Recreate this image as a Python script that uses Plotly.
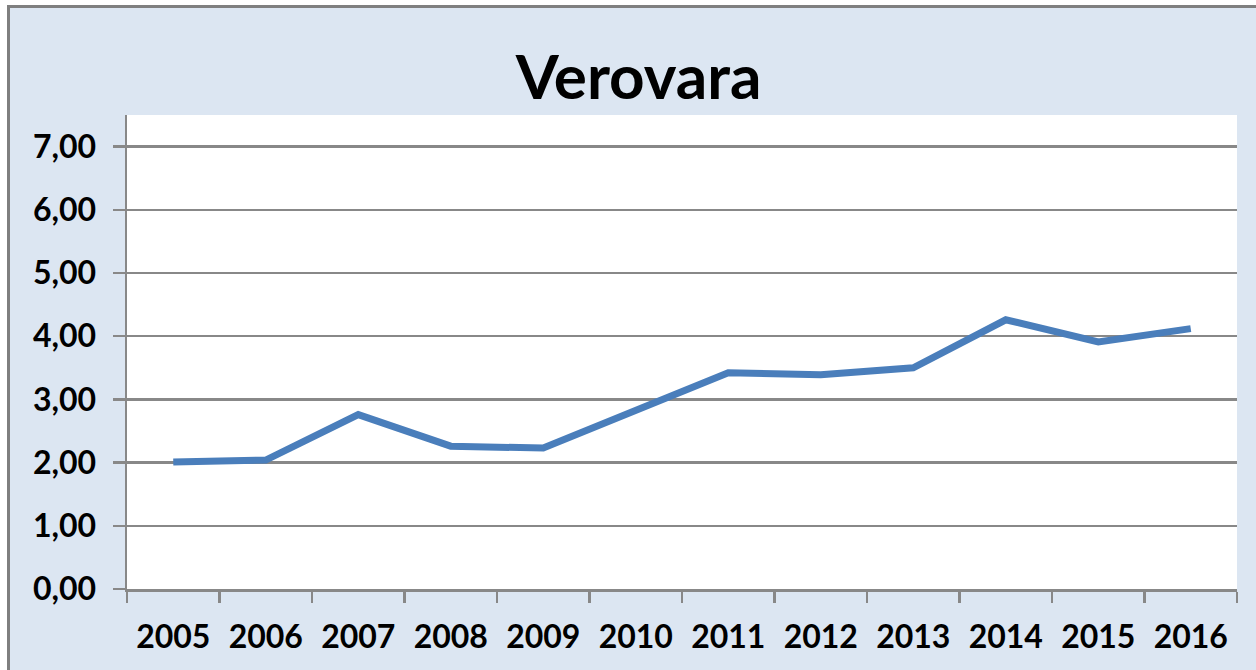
import plotly.graph_objects as go

years = ["2005", "2006", "2007", "2008", "2009", "2010", "2011", "2012", "2013", "2014", "2015", "2016"]
values = [2.01, 2.04, 2.76, 2.26, 2.23, 2.83, 3.42, 3.39, 3.50, 4.26, 3.91, 4.12]
y_ticks = [0, 1, 2, 3, 4, 5, 6, 7]
y_tick_labels = ["0,00", "1,00", "2,00", "3,00", "4,00", "5,00", "6,00", "7,00"]
title_text = "Verovara"

W, H = 1256, 670
L, R, T, B = 127, 19, 115, 81
pw, ph = W - L - R, H - T - B

def px_x(px):
    return (px - L) / pw

def px_y(py):
    return (H - B - py) / ph

fig = go.Figure()
fig.add_trace(go.Scatter(
    x=years, y=values, mode="lines",
    line=dict(color="#4A7EBB", width=7),
    hoverinfo="skip", showlegend=False,
))

grid = "#888888"
font_family = "Lato, 'Open Sans', sans-serif"

fig.update_layout(
    width=W, height=H,
    margin=dict(l=L, r=R, t=T, b=B, pad=0),
    paper_bgcolor="#DCE6F2",
    plot_bgcolor="#FFFFFF",
    title=dict(text=title_text, x=638.5 / W, xanchor="center", y=1 - 77 / H, yanchor="middle",
               font=dict(family=font_family, size=62, color="#000000", weight="bold")),
    xaxis=dict(
        type="category", range=[-0.5, 11.5], tickson="boundaries", ticks="outside",
        ticklen=11, tickwidth=2.5,
        tickcolor=grid, showline=True, linecolor=grid, linewidth=2.5, showgrid=False,
        tickfont=dict(family=font_family, size=32, color="#000000", weight="bold"),
        ticklabelstandoff=18, fixedrange=True,
    ),
    yaxis=dict(
        range=[0, 7.5], tickvals=y_ticks, ticktext=y_tick_labels,
        ticks="outside", ticklen=12, tickwidth=2.5, tickcolor=grid,
        showline=True, linecolor=grid, linewidth=2.5,
        showgrid=True, gridcolor=grid, gridwidth=2.5, zeroline=False,
        tickfont=dict(family=font_family, size=32, color="#000000", weight="bold"),
        ticklabelstandoff=10, fixedrange=True,
    ),
)

# white page area outside the chart border (left and top)
fig.add_shape(type="rect", xref="paper", yref="paper",
              x0=px_x(-5), x1=px_x(7), y0=px_y(H + 5), y1=px_y(-5),
              line=dict(width=0), fillcolor="#FFFFFF", layer="below")
fig.add_shape(type="rect", xref="paper", yref="paper",
              x0=px_x(-5), x1=px_x(W + 5), y0=px_y(5), y1=px_y(-5),
              line=dict(width=0), fillcolor="#FFFFFF", layer="below")
# chart border (left and top edges visible)
fig.add_shape(type="line", xref="paper", yref="paper",
              x0=px_x(8.5), x1=px_x(8.5), y0=px_y(H + 5), y1=px_y(5),
              line=dict(color="#7F7F7F", width=3), layer="below")
fig.add_shape(type="line", xref="paper", yref="paper",
              x0=px_x(7), x1=px_x(W + 5), y0=px_y(6.5), y1=px_y(6.5),
              line=dict(color="#7F7F7F", width=3), layer="below")

fig.write_html(
    "out.html",
    config={"displayModeBar": False, "staticPlot": True},
    post_script="document.body.style.margin='0';document.body.style.overflow='hidden';",
)
